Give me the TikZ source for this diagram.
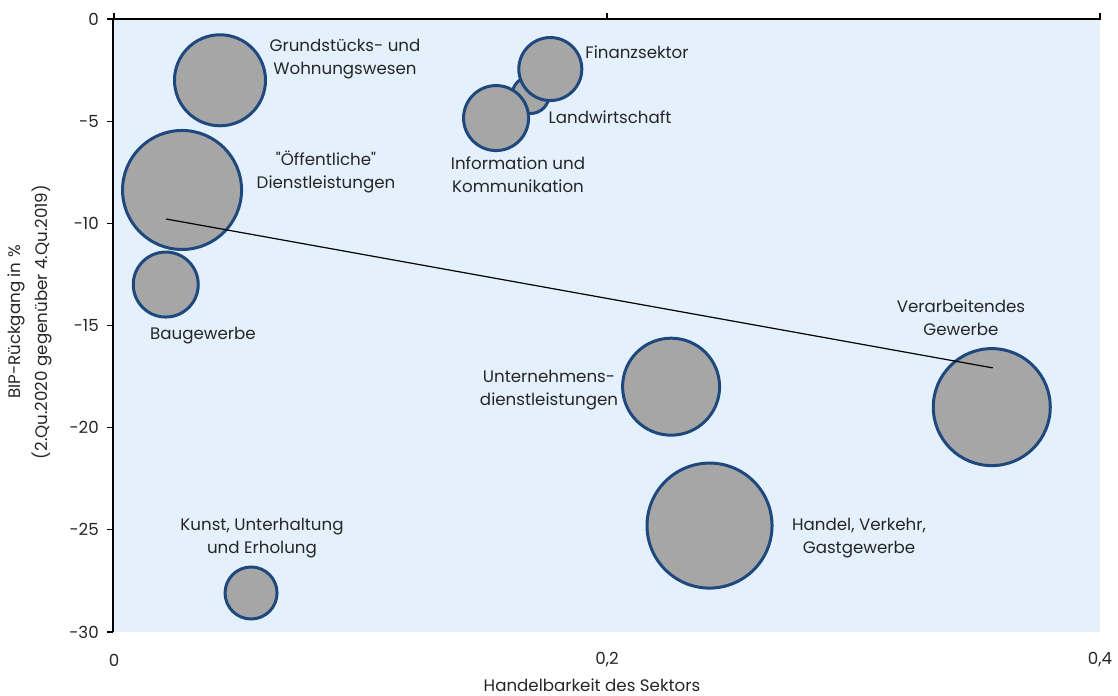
\documentclass[tikz,border=0pt]{standalone}
\usepackage{fontspec}
\setmainfont{Poppins}
\usetikzlibrary{positioning}

\definecolor{plotbg}{RGB}{228,240,252}
\definecolor{bubblefill}{RGB}{166,166,166}
\definecolor{bubbleline}{RGB}{31,73,125}
\definecolor{labeltext}{RGB}{38,38,38}

\tikzset{
  bubble/.style={circle, draw=bubbleline, fill=bubblefill, line width=2.25pt, inner sep=0pt, minimum size=#1},
  lbl/.style={font=\fontsize{12.5}{17}\selectfont, text=labeltext, align=center, inner sep=0pt},
  ticklbl/.style={font=\fontsize{12.5}{15}\selectfont, text=labeltext, inner sep=0pt},
}

\begin{document}
\begin{tikzpicture}[x=0.75pt,y=-0.75pt]
\useasboundingbox (0,0) rectangle (1118,696);
% plot area
\fill[plotbg] (114,19) rectangle (1100,632);

% bubbles in data coordinates (x: 0..0.4, y: 0..-30)
\begin{scope}[shift={(114,19)}, x=1848.75pt, y=15.32pt]
\foreach \name/\px/\py/\d in {land/0.169/-3.72/37, grund/0.043/-3.0/91, oeff/0.0276/-8.37/119,
    bau/0.021/-13.0/65, kunst/0.0556/-28.1/52, fin/0.177/-2.45/63, info/0.155/-4.85/65,
    unt/0.226/-18.0/97, handel/0.2416/-24.8/125, verarb/0.3561/-19.0/117}{
  \node[bubble=\d*0.75pt] (\name) at (\px,\py) {};
}
% linear trend
\coordinate (trendA) at (0.0211,-9.79);
\coordinate (trendB) at (0.3565,-17.08);
\draw[line width=0.9pt] (trendA) -- (trendB);
\end{scope}

% axes
\draw[line width=0.9pt] (113,19) -- (1101,19);
\draw[line width=0.9pt] (113,18.5) -- (113,632);
\foreach \t in {0,-5,...,-30}{
  \pgfmathparse{19-\t*20.43}\let\ty=\pgfmathresult
  \draw[line width=0.9pt] (107,\ty) -- (113,\ty);
  \node[ticklbl, anchor=east] (ytick\t) at (99,\ty) {\t};
}
\foreach \tx/\tl in {114/0, 607/{0,2}, 1100/{0,4}}{
  \draw[line width=0.9pt] (\tx,13) -- (\tx,19);
  \node[ticklbl] at (\tx,660) {\tl};
}

% axis titles
\node[lbl] (xtitle) at (592,685) {Handelbarkeit des Sektors};
\node[lbl, rotate=90, font=\fontsize{12.5}{20}\selectfont] (ytitle) at (30,322) {BIP-Rückgang in \%\\(2.Qu.2020 gegenüber 4.Qu.2019)};

% data labels
\node[lbl] (grundlbl) at (345,59) {Grundstücks- und\\Wohnungswesen};
\node[lbl] (oefflbl) at (326,172) {\textquotedbl Öffentliche\textquotedbl\\Dienstleistungen};
\node[lbl] (infolbl) at (518,175) {Information und\\Kommunikation};
\node[lbl] (finlbl) at (637,52) {Finanzsektor};
\node[lbl] (landlbl) at (610,117) {Landwirtschaft};
\node[lbl] (baulbl) at (203,336) {Baugewerbe};
\node[lbl] (untlbl) at (549,390) {Unternehmens-\\dienstleistungen};
\node[lbl] (verarblbl) at (961,318) {Verarbeitendes\\Gewerbe};
\node[lbl] (handellbl) at (859,538) {Handel, Verkehr,\\Gastgewerbe};
\node[lbl] (kunstlbl) at (262,538) {Kunst, Unterhaltung\\und Erholung};
\end{tikzpicture}
\end{document}
